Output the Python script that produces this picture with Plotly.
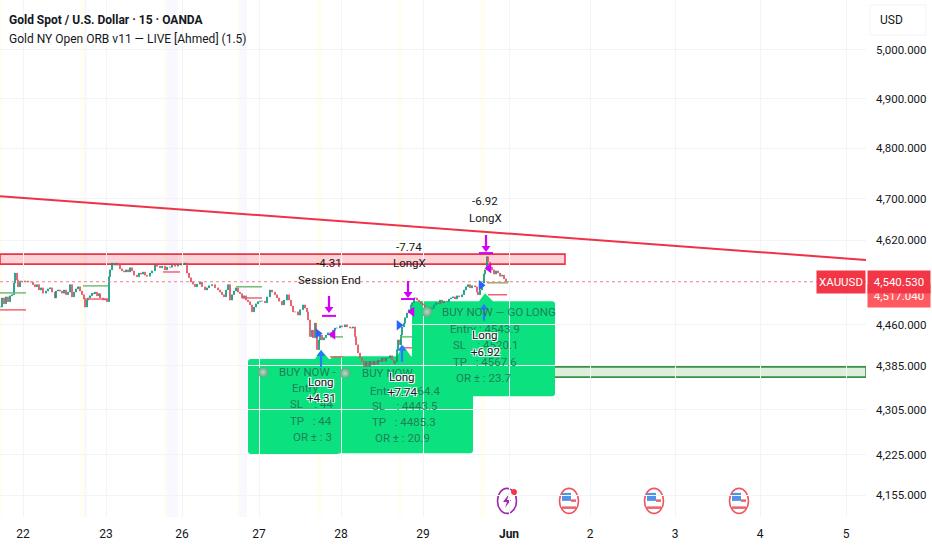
import numpy as np
import plotly.graph_objects as go

# bar number on the time scale (weekend gaps removed) and close of the sampled bars
bars = [0,2,4,6,8,10,12,14,15,17,18,20,22,25,28,31,33,35,37,39,41,43,46,48,50,52,55,56,58,60,
        62,64,66,68,70,72,74,76,78,80,82,84,85,87,88,90,92,94,95,97,99,100,103,105,107,
        109,110,112,114,116,118,120,122,124,126,128,130,132,134,137,139,141,143,145,147,150,152,155,157,160,162,165,167,170,172,175,178,181,185,
        187,189,191,193,195,197,200,202,205,207,209,212,215,218,220,222,224,226,228,230,232,234,236,238,240,242,244,246,248,250,252,254,256,258,260,262,
        265,267,270,272,275,277,279,282,284,287,289,291,293,295,298,300,303,305,307,308,310,312,313,315,316,317,319,320,322,324,326,328,330,333,335,337,340,342,345,347,350,352,353,
        355,356,358,360,362,364,366,368,370,372,374,376,378,380,382,384,386,388,390,392,394,395,397,398,400,401,402,404,405,407,409,411,412,414,415,
        417,419,421,423,425,428,430,432,434,436,438,440,442,444,447,449,451,453,455,457,459,462,464,466,468,470,472,475,477,478,480,482,484,485,487,488,490,492,494,496,498,500,502,504,506,508]
closes = [4493,4510,4499,4512,4503,4514,4516,4538,4557,4544,4531,4542,4540,4542,4540,4540,4535,4531,4535,4525,4529,4519,4523,4527,4529,4521,4510,4523,4525,4523,
          4519,4525,4516,4521,4535,4512,4521,4527,4531,4523,4516,4508,4493,4506,4510,4514,4519,4518,4521,4514,4518,4510,4506,4508,4503,
          4550,4563,4576,4572,4576,4572,4565,4561,4559,4563,4559,4567,4561,4553,4550,4557,4555,4559,4553,4551,4557,4561,4572,4570,4567,4570,4563,4568,4568,4572,4570,4572,4574,4576,
          4557,4548,4540,4536,4531,4536,4540,4531,4525,4529,4533,4535,4529,4525,4521,4516,4512,4525,4535,4506,4516,4523,4529,4521,4518,4510,4514,4506,4503,4497,4484,4493,4499,4503,4504,4504,
          4501,4512,4525,4521,4516,4510,4504,4497,4506,4516,4506,4495,4484,4484,4478,4488,4497,4491,4484,4469,4438,4450,4436,4463,4441,4414,4432,4441,4432,4436,4441,4445,4445,4450,4454,4454,4458,4456,4460,4456,4454,4454,4456,
          4438,4423,4408,4399,4393,4383,4392,4383,4393,4386,4393,4387,4395,4392,4399,4393,4399,4399,4403,4395,4389,4392,4414,4432,4423,4441,4456,4463,4473,4482,4488,4497,4501,4510,4510,
          4506,4503,4499,4497,4493,4493,4489,4491,4497,4501,4499,4506,4501,4504,4503,4508,4510,4512,4508,4514,4512,4516,4525,4531,4535,4529,4533,4531,4521,4516,4525,4538,4555,4563,4588,4578,4568,4563,4555,4561,4557,4551,4553,4546,4540,4540.53]
opens = [closes[0]] + closes[:-1]

x_tick_bars = [23, 106, 182, 259, 341, 423, 509, 590, 675, 760, 846]
x_tick_text = ["22", "23", "26", "27", "28", "29", "<b>Jun</b>", "2", "3", "4", "5"]
y_ticks = [5000, 4900, 4800, 4700, 4620, 4460, 4385, 4305, 4225, 4155]
y_tick_text = ["5,000.000", "4,900.000", "4,800.000", "4,700.000", "4,620.000",
               "4,460.000", "4,385.000", "4,305.000", "4,225.000", "4,155.000"]

last_price = 4540.53
next_price = 4517.04

# session background bands (start bar, end bar)
yellow_bands = [(0, 2), (80, 84), (163, 166), (237, 239), (317, 322), (398, 402), (480, 485)]
blue_bands = [(84, 87), (166, 178), (239, 247)]

# drawn levels
trend_bars = [0, 866]
trend_prices = [4705, 4582]
supply_zone = (0, 565, 4574, 4593)
demand_zone = (412, 866, 4364, 4382.6)

# opening range lines
or_green = [(0, 26, 4519.5), (83, 108, 4532.7), (236, 262, 4531), (330, 343, 4437.6), (400, 412, 4437.6)]
or_red = [(0, 26, 4487.7), (84, 108, 4508), (163, 180, 4559), (242, 262, 4510), (330, 343, 4400.8), (403, 412, 4417.4), (488, 507, 4516)]
or_last = (487, 508, 4538.5)

# signals
entry_bars = [321, 402, 484]
entry_tips = [4413.6, 4423, 4499]
exit_bars = [329, 408, 486]
exit_tips = [4482, 4510, 4597]
exit_stop = [4476.5, 4508, 4595]
right_marks_bars = [318, 399, 481]
right_marks_prices = [4444, 4459, 4534]
left_marks_bars = [333, 412, 489]
left_marks_prices = [4442, 4484, 4566]
ball_bars = [263, 345, 427]
ball_prices = [4373, 4371, 4484]

# font for everything in the chart
FONT = "Liberation Sans Narrow, Roboto, sans-serif"
BOX_GREEN = "#0be27f"
BOX_TEXT = "#1f7f58"
NB = "\u00a0"


def band(x0, x1, color):
    return dict(type="rect", xref="x", yref="paper", x0=x0, x1=x1, y0=0, y1=1,
                fillcolor=color, line_width=0, layer="below")


def callout(bar, price, left, right, top, bottom):
    # rounded box with a small pointer, sized in pixels round the signal bar
    r = 3
    path = (f"M {left + r},{-top} L -6,{-top} L 0,0 L 8,{-top} L {right - r},{-top} "
            f"Q {right},{-top} {right},{-top - r} L {right},{-bottom + r} Q {right},{-bottom} {right - r},{-bottom} "
            f"L {left + r},{-bottom} Q {left},{-bottom} {left},{-bottom + r} L {left},{-top - r} Q {left},{-top} {left + r},{-top} Z")
    return dict(type="path", path=path, xref="x", yref="y", xsizemode="pixel", ysizemode="pixel",
                xanchor=bar, yanchor=price, fillcolor=BOX_GREEN, line_width=0, layer="below")


def icon(path, bar, price, layer="below", **kw):
    return dict(type="path", path=path, xref="x", yref="y", xsizemode="pixel", ysizemode="pixel",
                xanchor=bar, yanchor=price, layer=layer, **kw)


def ellipse(cx, cy, rx, ry):
    k = 0.55
    return (f"M {cx - rx},{cy} C {cx - rx},{cy + k * ry} {cx - k * rx},{cy + ry} {cx},{cy + ry} "
            f"C {cx + k * rx},{cy + ry} {cx + rx},{cy + k * ry} {cx + rx},{cy} "
            f"C {cx + rx},{cy - k * ry} {cx + k * rx},{cy - ry} {cx},{cy - ry} "
            f"C {cx - k * rx},{cy - ry} {cx - rx},{cy - k * ry} {cx - rx},{cy} Z")


def box(x0, x1, y0, y1):
    return f"M {x0},{y0} L {x1},{y0} L {x1},{y1} L {x0},{y1} Z"


def flag(bar, price):
    out = [icon(ellipse(0, 0, 9.5, 12.5), bar, price, fillcolor="white", line=dict(color="#ef5560", width=1.6))]
    out.append(icon(box(-7, 2, 0, 8), bar, price, fillcolor="#4f94e6", line_width=0))
    out.append(icon(box(2, 7, -1, 1.5), bar, price, fillcolor="#e9636c", line_width=0))
    out.append(icon(box(-7, 7, -8, -5.5), bar, price, fillcolor="#e9636c", line_width=0))
    return out


def arrow(bar, price, color, d):
    # d = 1 arrow points up with its tip on the price, d = -1 points down
    path = (f"M 0,0 L 4.5,{-6 * d} L 1.1,{-6 * d} L 1.1,{-17 * d} L -1.1,{-17 * d} "
            f"L -1.1,{-6 * d} L -4.5,{-6 * d} Z")
    return icon(path, bar, price, layer="above", fillcolor=color, line_width=0)


def text_at(text, bar, price, color="#131722", size=12, anchor="center", **kw):
    return dict(text=text, x=bar, y=np.log10(price), xref="x", yref="y", xanchor=anchor, yanchor="middle",
                showarrow=False, font=dict(family=FONT, size=size, color=color, **kw))


fig = go.Figure()

fig.add_trace(go.Candlestick(x=bars, open=opens, high=[max(a, b) for a, b in zip(opens, closes)],
                             low=[min(a, b) for a, b in zip(opens, closes)], close=closes,
                             increasing=dict(line=dict(color="#089981", width=1), fillcolor="#089981"),
                             decreasing=dict(line=dict(color="#e2505f", width=1), fillcolor="#e2505f"),
                             whiskerwidth=0, hoverinfo="skip"))

# last price line
fig.add_trace(go.Scatter(x=[0, 866], y=[last_price, last_price], mode="lines", hoverinfo="skip",
                         line=dict(color="#f0808a", width=1, dash="dot")))

for seg in or_green:
    fig.add_trace(go.Scatter(x=seg[:2], y=[seg[2], seg[2]], mode="lines", line=dict(color="#66bb6a", width=1.4)))
for seg in or_red:
    fig.add_trace(go.Scatter(x=seg[:2], y=[seg[2], seg[2]], mode="lines", line=dict(color="#ef5a68", width=1.4)))
fig.add_trace(go.Scatter(x=or_last[:2], y=[or_last[2], or_last[2]], mode="lines", line=dict(color="#b5a86a", width=1.6)))

fig.add_trace(go.Scatter(x=trend_bars, y=trend_prices, mode="lines", line=dict(color="#ef3347", width=2)))

fig.add_trace(go.Scatter(x=right_marks_bars, y=right_marks_prices, mode="markers",
                         marker=dict(symbol="triangle-right", size=9, color="#2962ff")))
fig.add_trace(go.Scatter(x=left_marks_bars, y=left_marks_prices, mode="markers",
                         marker=dict(symbol="triangle-left", size=9, color="#d500f9")))
fig.add_trace(go.Scatter(x=exit_bars, y=exit_stop, mode="markers",
                         marker=dict(symbol="line-ew", size=10, line=dict(color="#d500f9", width=2))))
fig.add_trace(go.Scatter(x=ball_bars, y=ball_prices, mode="markers", hoverinfo="skip",
                         marker=dict(size=11, color="#4fae7f", gradient=dict(type="radial", color="#b9d8c6"), line_width=0)))

shapes = []
for a, b in yellow_bands:
    shapes.append(band(a, b, "#fffef0"))
for a, b in blue_bands:
    shapes.append(band(a, b, "#f8f8fe"))

shapes.append(dict(type="rect", xref="x", yref="y", x0=supply_zone[0], x1=supply_zone[1], y0=supply_zone[2], y1=supply_zone[3],
                   fillcolor="rgba(242,54,69,0.22)", line=dict(color="#ef3347", width=1.6), layer="below"))
shapes.append(dict(type="rect", xref="x", yref="y", x0=demand_zone[0], x1=demand_zone[1], y0=demand_zone[2], y1=demand_zone[3],
                   fillcolor="rgba(76,175,80,0.2)", line=dict(color="#3d9142", width=1.6), layer="below"))

shapes.append(callout(321, 4413.6, -73, 19, 9, 104))
shapes.append(callout(403, 4422, -72, 70, 11, 108))
shapes.append(callout(485, 4519, -73, 70, 8, 103))

for b, p in zip(entry_bars, entry_tips):
    shapes.append(arrow(b, p, "#2979ff", 1))
for b, p in zip(exit_bars, exit_tips):
    shapes.append(arrow(b, p, "#d500f9", -1))

# calendar markers under the chart
event_price = 4145
shapes.append(icon(ellipse(0, 0, 9.5, 12.5), 507, event_price, fillcolor="white", line=dict(color="#9c27b0", width=1.6)))
shapes.append(icon("M 2,7 L -4,-1 L 0,-1 L -2,-7 L 4,1 L 0,1 Z", 507, event_price, fillcolor="#9c27b0", line_width=0))
shapes.append(icon(ellipse(7, 9, 3, 3), 507, event_price, fillcolor="#f23645", line_width=0))
for b in [569, 654, 739]:
    shapes += flag(b, event_price)

# USD button
shapes.append(dict(type="rect", xref="paper", yref="paper", x0=870 / 866, x1=926 / 866, y0=1 - 35 / 517, y1=1 - 5 / 517,
                   fillcolor="white", line=dict(color="#f0f3fa", width=1), layer="below"))

ann = []
ann.append(dict(text="<b>Gold Spot / U.S. Dollar · 15 · OANDA</b>", xref="paper", yref="paper", x=7 / 866, y=1 - 20 / 517,
                xanchor="left", yanchor="middle", showarrow=False, font=dict(family=FONT, size=12, color="#131722")))
ann.append(dict(text="Gold NY Open ORB v11 — LIVE [Ahmed] (1.5)", xref="paper", yref="paper", x=7 / 866, y=1 - 39 / 517,
                xanchor="left", yanchor="middle", showarrow=False, font=dict(family=FONT, size=12, color="#131722")))
ann.append(dict(text="USD", xref="paper", yref="paper", x=878 / 866, y=1 - 20 / 517, xanchor="left", yanchor="middle",
                showarrow=False, font=dict(family=FONT, size=12, color="#131722")))

# text of the three callouts, covered parts left out
for row in [("BUY NOW -", 277, 4373), ("Entry", 290, 4344), (f"SL{NB*4}: 44", 288, 4315.6),
            (f"TP{NB*3}: 44", 288, 4285.5), (f"OR ±{NB}: 3", 291, 4257),
            ("BUY NOW", 360, 4371.4), ("Entry : 4464.4", 368, 4339), (f"SL{NB*4}: 4443.5", 370, 4312),
            (f"TP{NB*3}: 4485.3", 370, 4283.3), (f"OR ±{NB}: 20.9", 373, 4255),
            ("BUY NOW — GO LONG", 440, 4484), (f"Entry{NB}: 4543.9", 448, 4452.7), (f"SL{NB*4}: 4520.1", 451, 4423),
            (f"TP{NB*3}: 4567.6", 451, 4391.7), (f"OR ±{NB}: 23.7", 454, 4362.6)]:
    ann.append(text_at(row[0], row[1], row[2], color=BOX_TEXT, size=11.5, anchor="left"))

# signal texts
for row in [("-4.31", 329, 4576), ("Session End", 329, 4544), ("-7.74", 409, 4607), ("LongX", 409, 4576),
            ("-6.92", 485, 4696), ("LongX", 485, 4663)]:
    ann.append(text_at(row[0], row[1], row[2], size=11.5))

halo = "1px 1px 0 #fff, -1px -1px 0 #fff, 1px -1px 0 #fff, -1px 1px 0 #fff"
for row in [("Long", 321, 4355), ("+4.31", 321, 4326.5), ("Long", 402, 4364), ("+7.74", 402, 4337),
            ("Long", 485, 4441), ("+6.92", 485, 4410)]:
    ann.append(text_at(row[0], row[1], row[2], size=11.5, shadow=halo))

# price tags on the axis
ann.append(dict(text=f"{next_price:,.3f}", xref="paper", yref="y", x=867 / 866, y=np.log10(next_price), xanchor="left", yanchor="middle", yshift=-1.5,
                showarrow=False, width=60, height=20, bgcolor="#ff5a5f", font=dict(family=FONT, size=11.5, color="white")))
ann.append(dict(text="XAUUSD", xref="paper", yref="y", x=1, y=np.log10(last_price), xanchor="right", yanchor="middle",
                showarrow=False, width=46, height=20, bgcolor="#f23645", font=dict(family=FONT, size=11.5, color="white")))
ann.append(dict(text=f"{last_price:,.3f}", xref="paper", yref="y", x=867 / 866, y=np.log10(last_price), xanchor="left", yanchor="middle",
                showarrow=False, width=60, height=20, bgcolor="#f23645", font=dict(family=FONT, size=11.5, color="white")))

fig.update_layout(
    width=932, height=550, margin=dict(l=0, r=66, t=0, b=33, autoexpand=False),
    paper_bgcolor="white", plot_bgcolor="white", showlegend=False,
    shapes=shapes, annotations=ann, hovermode=False,
    font=dict(family=FONT, size=12, color="#131722"),
    xaxis=dict(range=[0, 866], tickmode="array", tickvals=x_tick_bars, ticktext=x_tick_text, automargin=False,
               rangeslider=dict(visible=False), showgrid=True, gridcolor="#f3f4f6", gridwidth=1,
               zeroline=False, showline=False, ticks="", ticklabelstandoff=8, tickfont=dict(size=12, color="#131722")),
    yaxis=dict(type="log", side="right", range=[np.log10(4117.3), np.log10(5105)], tickmode="array", automargin=False,
               tickvals=y_ticks, ticktext=y_tick_text, showgrid=True, gridcolor="#f3f4f6", gridwidth=1,
               zeroline=False, showline=False, ticks="", ticklabelstandoff=9, tickfont=dict(size=11.5, color="#131722")),
)

fig.write_html("out.html", config=dict(displayModeBar=False), post_script="document.body.style.margin='0';")
